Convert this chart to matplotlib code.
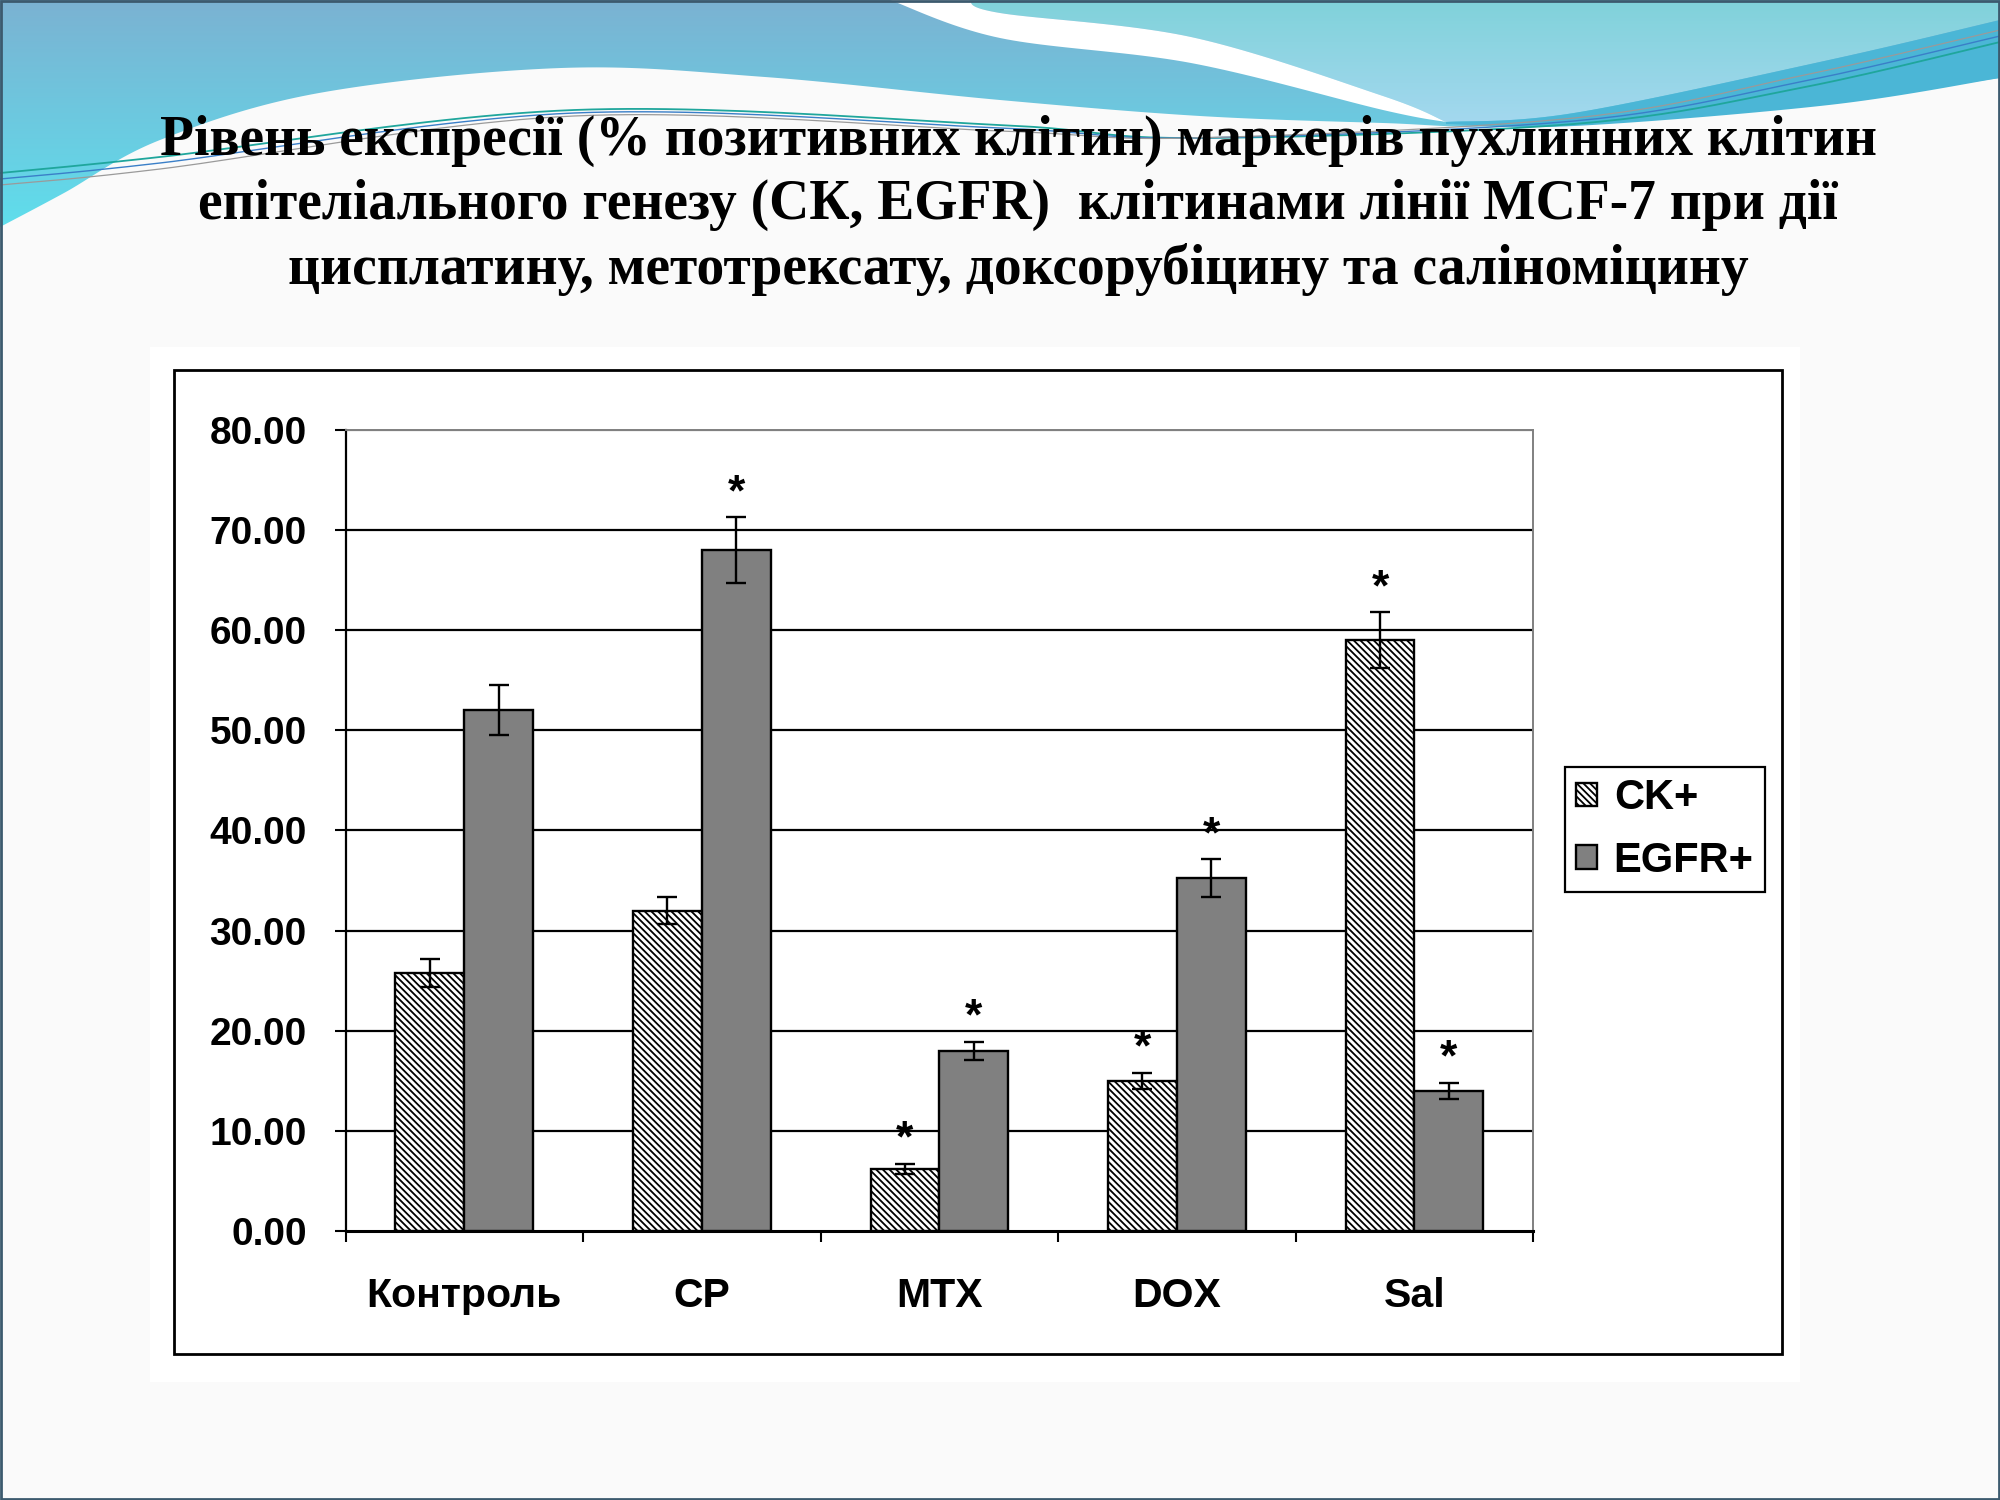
import numpy as np
import matplotlib
matplotlib.use('Agg')
import matplotlib.pyplot as plt
from matplotlib.patches import Rectangle, Polygon
from matplotlib.colors import LinearSegmentedColormap

groups = ['Контроль', 'CP', 'MTX', 'DOX', 'Sal']
series = ['CK+', 'EGFR+']

ck_mean = [25.8, 32.0, 6.2, 15.0, 59.0]
ck_err = [1.4, 1.3, 0.5, 0.8, 2.8]
ck_sig = [False, False, True, True, True]

egfr_mean = [52.0, 68.0, 18.0, 35.2, 14.0]
egfr_err = [2.5, 3.3, 0.9, 1.9, 0.8]
egfr_sig = [False, True, True, True, True]

yticks = [0, 10, 20, 30, 40, 50, 60, 70, 80]

title = ('Рівень експресії (% позитивних клітин) маркерів пухлинних клітин\n'
         'епітеліального генезу (СК, EGFR)  клітинами лінії MCF-7 при дії\n'
         'цисплатину, метотрексату, доксорубіцину та саліноміцину')

plt.rcParams['hatch.linewidth'] = 1.3
plt.rcParams['hatch.color'] = '#222222'
sans = ['Liberation Sans', 'DejaVu Sans']


def smooth(pts, n=24):
    # catmull-rom through the given outline points (slide decoration only)
    p = np.asarray(pts, dtype=float)
    out = []
    for i in range(len(p) - 1):
        p0 = p[i - 1] if i > 0 else p[i]
        p1, p2 = p[i], p[i + 1]
        p3 = p[i + 2] if i + 2 < len(p) else p[i + 1]
        t = np.linspace(0, 1, n, endpoint=False)[:, None]
        out.append(0.5 * (2 * p1 + (-p0 + p2) * t + (2 * p0 - 5 * p1 + 4 * p2 - p3) * t ** 2
                          + (-p0 + 3 * p1 - 3 * p2 + p3) * t ** 3))
    out.append(p[-1:])
    return np.vstack(out)


def grad_fill(axb, verts, c_top, c_bot, y0, y1):
    poly = Polygon(verts, closed=True, facecolor='none', edgecolor='none')
    axb.add_patch(poly)
    cmap = LinearSegmentedColormap.from_list('g', [c_top, c_bot])
    im = axb.imshow(np.linspace(0, 1, 256)[:, None], cmap=cmap, aspect='auto',
                    extent=(0, 2000, y1, y0), zorder=1)
    im.set_clip_path(poly)


fig = plt.figure(figsize=(20, 15), dpi=100)
fig.patch.set_facecolor('#fafafa')

# slide background (pixel coords)
bg = fig.add_axes([0, 0, 1, 1], zorder=-5)
bg.set_xlim(0, 2000)
bg.set_ylim(1500, 0)
bg.axis('off')

lower = smooth([(0, 227), (64, 193), (160, 140), (319, 93), (561, 68), (765, 77), (1000, 100),
                (1200, 116), (1383, 123), (1510, 126), (1765, 110), (2000, 78)])
blue = np.vstack([[(0, 0), (2000, 0)], lower[::-1]])
grad_fill(bg, blue, '#7bb2d2', '#5fdeec', 0, 227)

band_top = smooth([(1446, 122), (1574, 113), (1829, 60), (2000, 20)])
band_low = smooth([(1446, 124), (1574, 126), (1829, 105), (2000, 78)])
bg.add_patch(Polygon(np.vstack([band_top, band_low[::-1]]), closed=True,
                     facecolor='#4bb6d6', edgecolor='none', zorder=2))

stripe_up = smooth([(969, 0), (1000, 13), (1191, 37), (1383, 96), (1446, 122)])
stripe_lo = smooth([(890, 0), (1000, 38), (1191, 63), (1383, 110), (1446, 122)])
right = np.vstack([stripe_up, band_top, [(2000, 0)]])
grad_fill(bg, right, '#80d2da', '#a4d8ef', 0, 125)
bg.add_patch(Polygon(np.vstack([stripe_lo, stripe_up[::-1]]), closed=True,
                     facecolor='white', edgecolor='none', zorder=2))

# thin decorative lines
for dy, col, lw in [(0, '#1fa69c', 1.3), (6, '#3a7fc8', 1.0), (12, '#9a9a9a', 0.9)]:
    ln = smooth([(0, 173 + dy), (160, 157 + dy), (574, 110 + dy / 2), (1000, 125 + dy / 2),
                 (1191, 138), (1574, 124 - dy / 2), (1800, 88 - dy), (2000, 42 - dy)])
    bg.plot(ln[:, 0], ln[:, 1], color=col, lw=lw, zorder=3)

# white chart panel and frame
bg.add_patch(Rectangle((150, 347), 1650, 1035, facecolor='white', edgecolor='none', zorder=2))
bg.add_patch(Rectangle((174, 370), 1608, 984, facecolor='white', edgecolor='black', lw=2,
                       zorder=3))
bg.add_patch(Rectangle((1, 1), 1998, 1498, facecolor='none', edgecolor='#3c5a6e', lw=2, zorder=4))

fig.text(0.509, 0.863, title, ha='center', va='center', multialignment='center',
         fontsize=40, fontweight='bold', family=['Liberation Serif', 'DejaVu Serif'],
         linespacing=1.3)

ax = fig.add_axes([0.1728, 0.1794, 0.5938, 0.534])
x = np.arange(len(groups))
w = 0.29

ax.bar(x - w / 2, ck_mean, w, color='white', edgecolor='black', hatch='\\' * 5,
       linewidth=1.7, label=series[0], zorder=3)
ax.bar(x + w / 2, egfr_mean, w, color='#808080', edgecolor='black',
       linewidth=1.7, label=series[1], zorder=3)
ax.errorbar(x - w / 2, ck_mean, yerr=ck_err, fmt='none', ecolor='black',
            elinewidth=1.7, capsize=7, capthick=1.7, zorder=4)
ax.errorbar(x + w / 2, egfr_mean, yerr=egfr_err, fmt='none', ecolor='black',
            elinewidth=1.7, capsize=7, capthick=1.7, zorder=4)

for i in range(len(groups)):
    if ck_sig[i]:
        ax.text(x[i] - w / 2, ck_mean[i] + ck_err[i] + 0.3, '*', ha='center', va='bottom',
                fontsize=32, fontweight='bold', family=sans, zorder=5)
    if egfr_sig[i]:
        ax.text(x[i] + w / 2, egfr_mean[i] + egfr_err[i] + 0.3, '*', ha='center', va='bottom',
                fontsize=32, fontweight='bold', family=sans, zorder=5)

ax.set_xlim(-0.5, len(groups) - 0.5)
ax.set_ylim(0, 80)
ax.set_yticks(yticks)
ax.set_yticklabels(['%.2f' % v for v in yticks], fontsize=28, fontweight='bold', family=sans)
ax.tick_params(axis='y', length=8, width=1.5, pad=20, direction='out')

ax.set_xticks(x)
ax.set_xticklabels(groups, fontsize=29.5, fontweight='bold', family=sans)
ax.set_xticks(np.arange(len(groups) + 1) - 0.5, minor=True)
ax.tick_params(axis='x', which='major', length=0, pad=33)
ax.tick_params(axis='x', which='minor', length=8, width=1.5, direction='out')

ax.yaxis.grid(True, color='black', linewidth=1.6, zorder=0)
ax.set_axisbelow(True)
ax.get_ygridlines()[-1].set_color('#808080')
ax.get_ygridlines()[0].set_visible(False)

ax.spines['left'].set_linewidth(1.6)
ax.spines['bottom'].set_linewidth(2.2)
ax.spines['top'].set_color('#808080')
ax.spines['right'].set_color('#808080')
ax.spines['top'].set_linewidth(1.4)
ax.spines['right'].set_linewidth(1.4)

leg = fig.legend(loc='upper left', bbox_to_anchor=(0.7825, 0.4887), borderaxespad=0,
                 frameon=True, fancybox=False, edgecolor='black', framealpha=1,
                 prop={'family': sans, 'weight': 'bold', 'size': 30},
                 handlelength=0.5, handleheight=0.5, handletextpad=0.4,
                 labelspacing=0.54, borderpad=0.27)
leg.get_frame().set_linewidth(1.6)

fig.savefig('out.png', dpi=100, facecolor=fig.get_facecolor())
